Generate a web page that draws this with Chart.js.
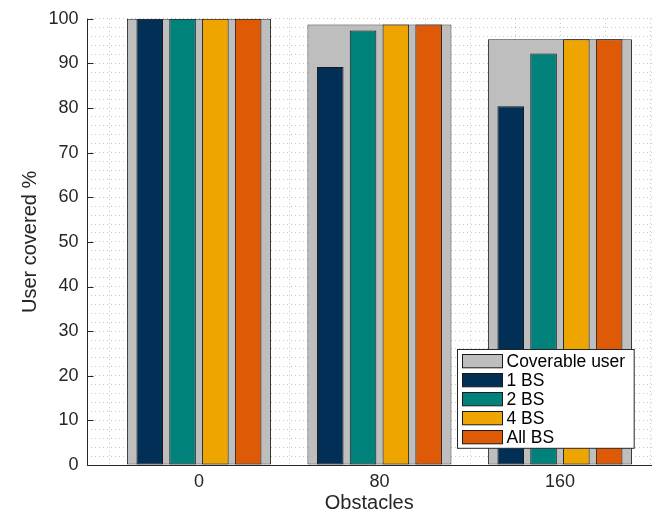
<!DOCTYPE html>
<html>
<head>
<meta charset="utf-8">
<script src="https://cdn.jsdelivr.net/npm/chart.js@4"></script>
<style>
  html, body { margin: 0; padding: 0; background: #fff; }
  #wrap { width: 660px; height: 515px; position: relative; }
</style>
</head>
<body>
<div id="wrap"><canvas id="c" width="660" height="515"></canvas></div>
<script>
const categories = ['0', '80', '160'];
const coverable = [100, 98.7, 95.4];
const bs1 = [100, 89.2, 80.4];
const bs2 = [100, 97.4, 92.2];
const bs4 = [100, 98.7, 95.4];
const bsAll = [100, 98.7, 95.4];
const seriesNames = ['Coverable user', '1 BS', '2 BS', '4 BS', 'All BS'];
const seriesColors = ['#BEBEBE', '#022F55', '#00827A', '#EFA500', '#DF5A06'];
const yTickStep = 2;
const yMajorStep = 10;
const xMin = -0.623;
const xMax = 2.51;

const FONT = '"Liberation Sans", Arial, Helvetica, sans-serif';
const EDGE = '#262626';
const GRID = 'rgba(0,0,0,0.22)';

function pts(arr) { return arr.map((v, i) => ({ x: i, y: v })); }

const coloredCommon = {
  grouped: true,
  categoryPercentage: 0.727,
  barPercentage: 0.81,
  borderWidth: 1,
  borderColor: '#1a1a1a',
  borderSkipped: false,
  order: 0
};

const datasets = [
  {
    label: seriesNames[0], data: pts(coverable), backgroundColor: seriesColors[0],
    grouped: false, categoryPercentage: 1, barPercentage: 0.798,
    borderWidth: 1, borderColor: '#2a2a2a', borderSkipped: false, order: 1
  },
  Object.assign({ label: seriesNames[1], data: pts(bs1), backgroundColor: seriesColors[1] }, coloredCommon),
  Object.assign({ label: seriesNames[2], data: pts(bs2), backgroundColor: seriesColors[2] }, coloredCommon),
  Object.assign({ label: seriesNames[3], data: pts(bs4), backgroundColor: seriesColors[3] }, coloredCommon),
  Object.assign({ label: seriesNames[4], data: pts(bsAll), backgroundColor: seriesColors[4] }, coloredCommon)
];

const minorGridPlugin = {
  id: 'minorGrid',
  beforeDatasetsDraw(chart) {
    const { ctx, chartArea, scales } = chart;
    const xs = scales.x;
    ctx.save();
    ctx.strokeStyle = GRID;
    ctx.lineWidth = 1;
    ctx.setLineDash([1, 3]);
    for (let v = -0.5; v <= 2.5001; v += 0.25) {
      const px = Math.round(xs.getPixelForValue(v)) + 0.5;
      if (px <= chartArea.left + 1 || px > chartArea.right) continue;
      ctx.beginPath();
      ctx.moveTo(px, chartArea.top);
      ctx.lineTo(px, chartArea.bottom);
      ctx.stroke();
    }
    ctx.restore();
  }
};

const axesPlugin = {
  id: 'inwardTicks',
  afterDatasetsDraw(chart) {
    const { ctx, chartArea, scales } = chart;
    const ys = scales.y;
    ctx.save();
    ctx.strokeStyle = EDGE;
    ctx.lineWidth = 1;
    ctx.beginPath();
    const lx = Math.round(chartArea.left) + 0.5;
    const by = Math.round(chartArea.bottom) + 0.5;
    ctx.moveTo(lx, chartArea.top);
    ctx.lineTo(lx, by);
    ctx.lineTo(chartArea.right, by);
    for (let v = 0; v <= 100; v += yMajorStep) {
      const py = Math.round(ys.getPixelForValue(v)) + 0.5;
      ctx.moveTo(lx, py);
      ctx.lineTo(lx + 6, py);
    }
    ctx.stroke();
    ctx.restore();
  }
};

const legendPlugin = {
  id: 'boxLegend',
  afterDraw(chart) {
    const { ctx, chartArea } = chart;
    const ds = chart.data.datasets;
    ctx.save();
    ctx.font = '17.5px ' + FONT;
    let maxW = 0;
    ds.forEach(d => { maxW = Math.max(maxW, ctx.measureText(d.label).width); });
    const padL = 5, padT = 5, sw = 40, sh = 13.3, gap = 4, rowH = 19, padR = 9, padB = 4.5;
    const w = padL + sw + gap + maxW + padR;
    const h = padT + rowH * (ds.length - 1) + sh + padB;
    const right = chartArea.right - 18;
    const bottom = chartArea.bottom - 17;
    const x0 = Math.round(right - w) + 0.5;
    const y0 = Math.round(bottom - h) + 0.5;
    ctx.fillStyle = '#fff';
    ctx.fillRect(x0, y0, w, h);
    ctx.strokeStyle = '#262626';
    ctx.lineWidth = 1;
    ctx.strokeRect(x0, y0, w, h);
    ds.forEach((d, i) => {
      const sy = y0 + padT + i * rowH;
      const sx = x0 + padL;
      ctx.fillStyle = d.backgroundColor;
      ctx.fillRect(sx, sy, sw, sh);
      ctx.strokeStyle = '#1a1a1a';
      ctx.strokeRect(sx, sy, sw, sh);
      ctx.fillStyle = '#000';
      ctx.textBaseline = 'middle';
      ctx.textAlign = 'left';
      ctx.fillText(d.label, sx + sw + gap, sy + sh / 2 + 1);
    });
    ctx.restore();
  }
};

new Chart(document.getElementById('c'), {
  type: 'bar',
  data: { datasets },
  plugins: [minorGridPlugin, axesPlugin, legendPlugin],
  options: {
    responsive: false,
    animation: false,
    devicePixelRatio: 1,
    layout: { padding: { top: 18.7, right: 8, left: 0, bottom: 0 } },
    plugins: { legend: { display: false }, tooltip: { enabled: false } },
    scales: {
      x: {
        type: 'linear',
        offset: false,
        min: xMin,
        max: xMax,
        afterDataLimits(scale) { scale.min = xMin; scale.max = xMax; },
        afterBuildTicks(scale) { scale.ticks = categories.map((c, i) => ({ value: i })); },
        afterFit(scale) { scale.height = 50; },
        ticks: {
          autoSkip: false, maxRotation: 0, padding: 6,
          font: { family: FONT, size: 18 }, color: '#262626',
          callback: (v) => categories[v]
        },
        grid: { display: false, drawTicks: false, offset: false },
        border: { display: false },
        title: {
          display: true, text: 'Obstacles',
          font: { family: FONT, size: 20 }, color: '#262626',
          padding: { top: 0, bottom: 0 }
        }
      },
      y: {
        min: 0, max: 100,
        afterFit(scale) { scale.width = 86.5; },
        ticks: {
          stepSize: yTickStep, autoSkip: false, padding: 8,
          font: { family: FONT, size: 18 }, color: '#262626',
          callback: (v) => (v % yMajorStep === 0 ? String(v) : '')
        },
        grid: {
          color: GRID, lineWidth: 1, drawTicks: false
        },
        border: { display: false, dash: [1, 3] },
        title: {
          display: true, text: 'User covered %',
          font: { family: FONT, size: 20 }, color: '#262626',
          padding: { top: 18, bottom: 0 }
        }
      }
    }
  }
});
</script>
</body>
</html>
